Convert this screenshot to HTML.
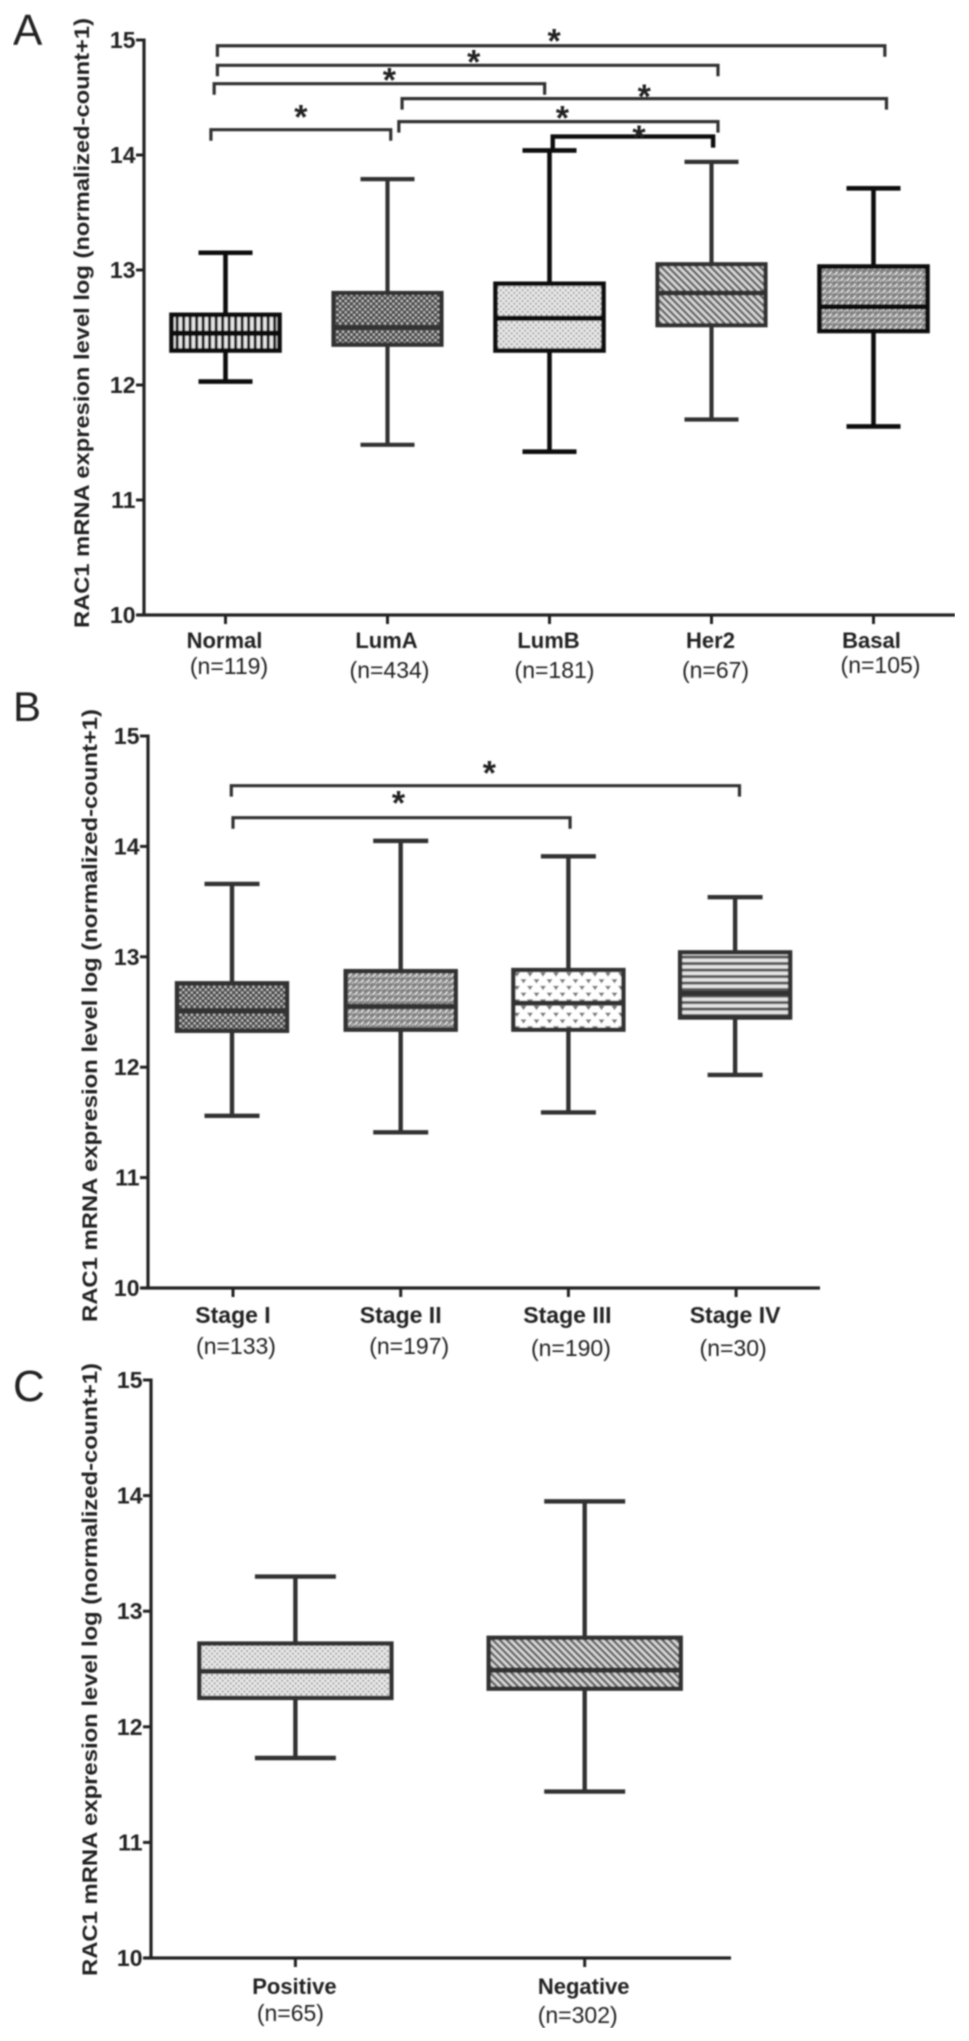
<!DOCTYPE html>
<html lang="en">
<head>
<meta charset="utf-8">
<title>RAC1 mRNA expression box plots</title>
<style>
html,body{margin:0;padding:0;background:#fff;}
svg{display:block;}
text{font-family:"Liberation Sans",Arial,sans-serif;fill:#222;}
</style>
</head>
<body>
<svg id="figure" xmlns="http://www.w3.org/2000/svg" width="969" height="2041" viewBox="0 0 969 2041">
<defs>
<filter id="soft" x="0" y="0" width="100%" height="100%" filterUnits="objectBoundingBox"><feGaussianBlur stdDeviation="0.75"/></filter>
<pattern id="p-vstripes" patternUnits="userSpaceOnUse" width="6.5" height="6.5"><rect width="6.5" height="6.5" fill="#e6e6e6"/><rect width="3.2" height="6.5" fill="#222"/></pattern>
<pattern id="p-darkdots" patternUnits="userSpaceOnUse" width="5.6" height="5.6"><rect width="5.6" height="5.6" fill="#444"/><circle cx="1.4" cy="1.4" r="1.25" fill="#c4c4c4"/><circle cx="4.2" cy="4.2" r="1.25" fill="#c4c4c4"/></pattern>
<pattern id="p-lightdots" patternUnits="userSpaceOnUse" width="5.4" height="5.4"><rect width="5.4" height="5.4" fill="#e8e8e8"/><circle cx="1.35" cy="1.35" r="1.05" fill="#9a9a9a"/><circle cx="4.05" cy="4.05" r="1.05" fill="#9a9a9a"/></pattern>
<pattern id="p-diagback" patternUnits="userSpaceOnUse" width="5" height="5" patternTransform="rotate(45)"><rect width="5" height="5" fill="#d8d8d8"/><rect width="5" height="2.5" fill="#666"/></pattern>
<pattern id="p-diagfwd" patternUnits="userSpaceOnUse" width="6" height="6"><rect width="6" height="6" fill="#828282"/><path d="M0.8 4.8 L3.6 1.6" stroke="#e2e2e2" stroke-width="1.6"/><path d="M3.8 6 L6 3.6" stroke="#cfcfcf" stroke-width="1.1"/></pattern>
<pattern id="p-triangles" patternUnits="userSpaceOnUse" width="13" height="13.4"><rect width="13" height="13.4" fill="#fff"/><path d="M0.5 1 H6.5 L3.5 5.2 Z" fill="#777"/><path d="M7 7.7 H13 L10 11.9 Z" fill="#777"/></pattern>
<pattern id="p-hstripes" patternUnits="userSpaceOnUse" width="6.5" height="6.5"><rect width="6.5" height="6.5" fill="#e4e4e4"/><rect width="6.5" height="3.1" fill="#5c5c5c"/></pattern>
</defs>
<g id="root" filter="url(#soft)"></g>
</svg>
<script>
/* ---------- Panel A values ---------- */
const categoriesA = ["Normal", "LumA", "LumB", "Her2", "Basal"];
const sampleLabelsA = ["(n=119)", "(n=434)", "(n=181)", "(n=67)", "(n=105)"];
const whiskerHighA = [13.15, 13.79, 14.04, 13.94, 13.71];
const quartile3A = [12.61, 12.80, 12.88, 13.05, 13.03];
const medianA = [12.45, 12.50, 12.58, 12.80, 12.68];
const quartile1A = [12.30, 12.35, 12.30, 12.52, 12.47];
const whiskerLowA = [12.03, 11.48, 11.42, 11.70, 11.64];
const bracketFromA = [-0.05, -0.05, -0.07, 1.09, 1.07, 2.02, -0.09];
const bracketToA = [4.07, 3.04, 1.97, 4.08, 3.04, 3.01, 1.02];
const bracketLevelA = [14.95, 14.78, 14.62, 14.49, 14.29, 14.16, 14.22];

/* ---------- Panel B values ---------- */
const categoriesB = ["Stage I", "Stage II", "Stage III", "Stage IV"];
const sampleLabelsB = ["(n=133)", "(n=197)", "(n=190)", "(n=30)"];
const whiskerHighB = [13.66, 14.05, 13.91, 13.54];
const quartile3B = [12.76, 12.87, 12.88, 13.04];
const medianB = [12.51, 12.55, 12.58, 12.67];
const quartile1B = [12.33, 12.34, 12.34, 12.45];
const whiskerLowB = [11.56, 11.41, 11.59, 11.93];
const bracketFromB = [-0.01, 0];
const bracketToB = [3.02, 2.01];
const bracketLevelB = [14.55, 14.26];

/* ---------- Panel C values ---------- */
const categoriesC = ["Positive", "Negative"];
const sampleLabelsC = ["(n=65)", "(n=302)"];
const whiskerHighC = [13.30, 13.95];
const quartile3C = [12.72, 12.77];
const medianC = [12.48, 12.49];
const quartile1C = [12.25, 12.33];
const whiskerLowC = [11.73, 11.44];

/* ---------- Shared axis labels ---------- */
const yTickValues = [10, 11, 12, 13, 14, 15];
const yAxisTitle = "RAC1 mRNA expresion level log (normalized-count+1)";

const NS = "http://www.w3.org/2000/svg";
const root = document.getElementById("root");

function make(tag, parent, attrs) {
  const node = document.createElementNS(NS, tag);
  for (const key in attrs) node.setAttribute(key, attrs[key]);
  parent.appendChild(node);
  return node;
}

function drawPanel(p) {
  const y = v => p.y10 - p.unit * (v - 10);
  const x = i => p.x0 + p.step * i;

  const panel = make("g", root, {});
  
  

  const letter = make("text", panel, {x: 13, y: p.letterY, "font-size": p.letterSize});
  letter.textContent = p.letter;
  
  

  const title = make("text", panel, {
    transform: "translate(" + p.titleX + "," + p.titleBottom + ") rotate(-90)",
    "font-size": 21, "font-weight": "bold", fill: "#333",
    textLength: p.titleLen, lengthAdjust: "spacingAndGlyphs"
  });
  title.textContent = yAxisTitle;
  
  

  const yAxis = make("line", panel, {x1: p.axisX, x2: p.axisX, y1: y(15) - 1.5, y2: y(10) + 1.5, stroke: "#222", "stroke-width": 3.2});
  
  

  const xAxis = make("line", panel, {x1: p.axisX - 7, x2: p.axisEnd, y1: y(10), y2: y(10), stroke: "#222", "stroke-width": 3.2});
  
  

  yTickValues.forEach(v => {
    const tick = make("line", panel, {x1: p.axisX - 8, x2: p.axisX, y1: y(v), y2: y(v), stroke: "#222", "stroke-width": 3});
    
    
    const label = make("text", panel, {x: p.axisX - 8.5, y: y(v) + 8, "font-size": 23, "font-weight": "bold", "text-anchor": "end"});
    label.textContent = String(v);
    
    
  });

  p.categories.forEach((name, i) => {
    const cx = x(i) + (p.boxNudge ? p.boxNudge[i] : 0);
    const tick = make("line", panel, {x1: x(i), x2: x(i), y1: y(10), y2: y(10) + 9, stroke: "#222", "stroke-width": 3});
    
    

    const label = make("text", panel, {x: x(i) + p.catNudge[i], y: p.catY, "font-size": p.catSize, "font-weight": "bold", "text-anchor": "middle"});
    label.textContent = name;
    
    

    const nLabel = make("text", panel, {x: x(i) + p.nNudgeX[i], y: p.nY + p.nNudgeY[i], "font-size": 23, fill: "#333", "text-anchor": "middle"});
    nLabel.textContent = p.samples[i];
    
    

    const colour = p.colour[i];
    const sw = p.strokeW[i];
    const box = make("g", panel, {});
    
    

    const whisker = make("line", box, {x1: cx, x2: cx, y1: y(p.high[i]), y2: y(p.low[i]), stroke: colour, "stroke-width": sw});
    
    

    const capTop = make("line", box, {x1: cx - p.capW / 2, x2: cx + p.capW / 2, y1: y(p.high[i]), y2: y(p.high[i]), stroke: colour, "stroke-width": sw});
    
    

    const capLow = make("line", box, {x1: cx - p.capW / 2, x2: cx + p.capW / 2, y1: y(p.low[i]), y2: y(p.low[i]), stroke: colour, "stroke-width": sw});
    
    

    const rect = make("rect", box, {
      x: cx - p.boxW / 2, width: p.boxW,
      y: y(p.q3[i]), height: y(p.q1[i]) - y(p.q3[i]),
      fill: "url(#" + p.fills[i] + ")", stroke: colour, "stroke-width": sw
    });
    
    

    const med = make("line", box, {x1: cx - p.boxW / 2, x2: cx + p.boxW / 2, y1: y(p.med[i]), y2: y(p.med[i]), stroke: colour, "stroke-width": sw + 0.8});
    
    
  });

  (p.brFrom || []).forEach((from, i) => {
    const x1 = x(from), x2 = x(p.brTo[i]), by = y(p.brLevel[i]);
    const heavy = p.brHeavy === i;
    const bracket = make("path", panel, {
      d: "M" + x1 + " " + (by + (heavy ? 13 : 11)) + " V" + by + " H" + x2 + " V" + (by + 11),
      fill: "none", stroke: heavy ? "#111" : "#333", "stroke-width": heavy ? 4.4 : 3.2
    });
    
    

    const star = make("text", panel, {
      x: (x1 + x2) / 2 + p.starOffset[i][0], y: by + p.starOffset[i][1] + 17,
      "font-size": 34, "font-weight": "bold", "text-anchor": "middle", fill: "#111"
    });
    star.textContent = "*";
    
    
  });
}

drawPanel({
  letter: "A", letterY: 45, letterSize: 44,
  y10: 615, unit: 115, x0: 225.5, step: 162, axisX: 144, axisEnd: 955,
  titleX: 89, titleBottom: 628, titleLen: 610,
  categories: categoriesA, samples: sampleLabelsA,
  high: whiskerHighA, q3: quartile3A, med: medianA, q1: quartile1A, low: whiskerLowA,
  boxW: 108, capW: 54,
  colour: ["#0c0c0c", "#333", "#0c0c0c", "#333", "#0c0c0c"],
  strokeW: [4.6, 4.2, 4.6, 4.2, 4.6],
  fills: ["p-vstripes", "p-darkdots", "p-lightdots", "p-diagback", "p-diagfwd"],
  catY: 648, catSize: 22, catNudge: [-1, -1, -1, -1, -2],
  nY: 674, nNudgeX: [3.5, 2, 5, 4, 7], nNudgeY: [0, 4, 4, 4, -1],
  brFrom: bracketFromA, brTo: bracketToA, brLevel: bracketLevelA, brHeavy: 5,
  starOffset: [[3, -10.5], [6, -9], [10, -9], [0, -7.5], [4, -9], [6, -4.6], [0, -18]]
});

drawPanel({
  letter: "B", letterY: 721, letterSize: 42,
  y10: 1288, unit: 110.4, x0: 233, step: 167.7, axisX: 148, axisEnd: 820,
  titleX: 97, titleBottom: 1322, titleLen: 613,
  categories: categoriesB, samples: sampleLabelsB,
  high: whiskerHighB, q3: quartile3B, med: medianB, q1: quartile1B, low: whiskerLowB,
  boxW: 110, capW: 55, boxNudge: [-1, 0, 0, -1],
  colour: ["#333", "#333", "#333", "#333"],
  strokeW: [4.4, 4.4, 4.4, 4.4],
  fills: ["p-darkdots", "p-diagfwd", "p-triangles", "p-hstripes"],
  catY: 1323, catSize: 23, catNudge: [0, 0, -1, -1],
  nY: 1354, nNudgeX: [3, 8.5, 2.5, -3], nNudgeY: [0, 0, 2, 2],
  brFrom: bracketFromB, brTo: bracketToB, brLevel: bracketLevelB,
  starOffset: [[4, -18], [-3, -20]]
});

drawPanel({
  letter: "C", letterY: 1401, letterSize: 44,
  y10: 1958, unit: 115.6, x0: 295.4, step: 289.3, axisX: 151, axisEnd: 731,
  titleX: 97, titleBottom: 1976, titleLen: 613,
  categories: categoriesC, samples: sampleLabelsC,
  high: whiskerHighC, q3: quartile3C, med: medianC, q1: quartile1C, low: whiskerLowC,
  boxW: 192, capW: 81,
  colour: ["#333", "#333"],
  strokeW: [4.4, 4.4],
  fills: ["p-lightdots", "p-diagback"],
  catY: 1994, catSize: 22, catNudge: [-1, -1],
  nY: 2021, nNudgeX: [-5, -7], nNudgeY: [0, 2]
});
</script>
</body>
</html>
